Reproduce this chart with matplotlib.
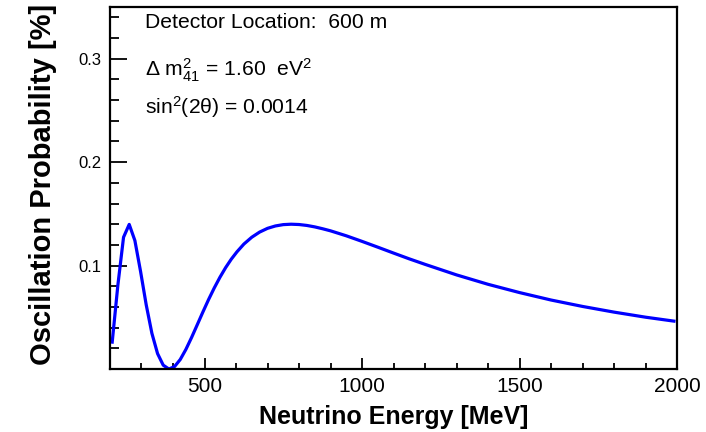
import matplotlib
matplotlib.use("Agg")
import matplotlib.pyplot as plt
from matplotlib.ticker import MultipleLocator

plt.rcParams['font.family'] = ['Liberation Sans', 'DejaVu Sans']
plt.rcParams['mathtext.fontset'] = 'custom'
plt.rcParams['mathtext.rm'] = 'Liberation Sans'
plt.rcParams['mathtext.it'] = 'Liberation Sans:italic'
plt.rcParams['mathtext.bf'] = 'Liberation Sans:bold'

# oscillation probability vs neutrino energy, L = 600 m
energy = [207, 225, 243, 261, 279, 297, 315, 333, 351, 369, 387, 405, 423, 441,
          459, 477, 495, 513, 531, 549, 567, 585, 603, 625, 650, 675, 700, 725,
          750, 775, 800, 825, 850, 875, 900, 925, 950, 975, 1000, 1050, 1100,
          1150, 1200, 1300, 1400, 1500, 1600, 1700, 1800, 1900, 1990]
prob = [0.026, 0.0811, 0.1274, 0.1398, 0.1242, 0.0944, 0.0620, 0.0345, 0.0149,
        0.0037, 0.0000, 0.0024, 0.0092, 0.0190, 0.0305, 0.0428, 0.0552, 0.0672,
        0.0784, 0.0887, 0.0980, 0.1062, 0.1133, 0.1208, 0.1274, 0.1324, 0.1360,
        0.1383, 0.1396, 0.1400, 0.1397, 0.1388, 0.1374, 0.1356, 0.1336, 0.1312,
        0.1288, 0.1261, 0.1234, 0.1178, 0.1121, 0.1065, 0.1012, 0.0910, 0.0819,
        0.0739, 0.0667, 0.0605, 0.0550, 0.0501, 0.0463]

info_lines = ["Detector Location:  600 m",
              r"Δ m$^{2}_{41}$ = 1.60  eV$^{2}$",
              r"sin$^{2}$(2θ) = 0.0014"]
info_y = [0.956, 0.826, 0.724]

fig = plt.figure(figsize=(7.06, 4.32), dpi=100)
ax = fig.add_axes([0.1558, 0.1458, 0.8032, 0.838])

ax.plot(energy, prob, color='#0000ff', lw=2.3)

ax.set_xlim(200, 2000)
ax.set_ylim(0, 0.35)
ax.xaxis.set_major_locator(MultipleLocator(500))
ax.xaxis.set_minor_locator(MultipleLocator(100))
ax.set_yticks([0.1, 0.2, 0.3])
ax.set_yticklabels(['0.1', '0.2', '0.3'])
ax.yaxis.set_minor_locator(MultipleLocator(0.02))

ax.tick_params(axis='x', which='major', direction='in', length=8, width=1.3,
               labelsize=15, pad=6)
ax.tick_params(axis='x', which='minor', direction='in', length=4.5, width=1.3)
ax.tick_params(axis='y', which='major', direction='in', length=12, width=1.3,
               labelsize=12, pad=6)
ax.tick_params(axis='y', which='minor', direction='in', length=6.5, width=1.3)
for s in ax.spines.values():
    s.set_linewidth(1.6)

ax.set_xlabel("Neutrino Energy [MeV]", fontsize=18, fontweight='bold', labelpad=6)
ax.set_ylabel("Oscillation Probability [%]", fontsize=21, fontweight='bold')
ax.yaxis.set_label_coords(-0.094, 0.51)

for txt, yy in zip(info_lines, info_y):
    ax.text(0.062, yy, txt, transform=ax.transAxes, fontsize=15.2, va='center', ha='left')

fig.savefig("out.png", dpi=100)
